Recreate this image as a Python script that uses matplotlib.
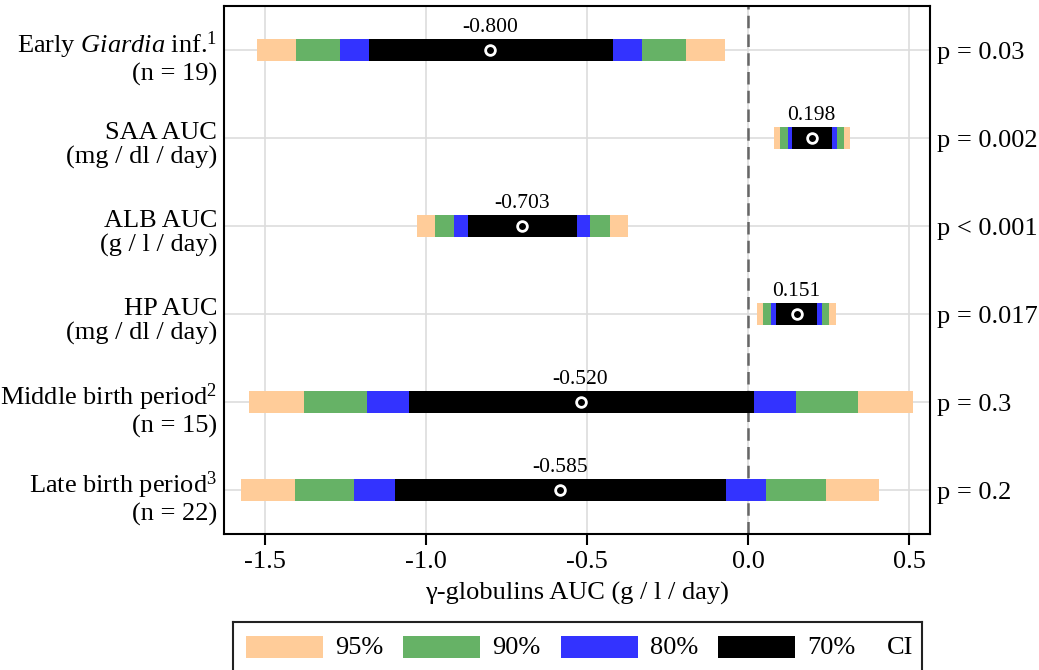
import matplotlib
matplotlib.use("Agg")
import matplotlib.pyplot as plt
from matplotlib.patches import Rectangle
import matplotlib.transforms as mtransforms
import numpy as np

plt.rcParams['font.family'] = ['Liberation Serif', 'DejaVu Serif']
plt.rcParams['mathtext.fontset'] = 'custom'
plt.rcParams['mathtext.rm'] = 'Liberation Serif'
plt.rcParams['mathtext.it'] = 'Liberation Serif:italic'

# ---------------- data ----------------
row_labels = [
    "Early $\\mathit{Giardia}$ inf.$^{1}$\n(n = 19)",
    "SAA AUC\n(mg / dl / day)",
    "ALB AUC\n(g / l / day)",
    "HP AUC\n(mg / dl / day)",
    "Middle birth period$^{2}$\n(n = 15)",
    "Late birth period$^{3}$\n(n = 22)",
]
p_values = ["p = 0.03", "p = 0.002", "p < 0.001", "p = 0.017", "p = 0.3", "p = 0.2"]
estimates = [-0.800, 0.198, -0.703, 0.151, -0.520, -0.585]
ci95_lo = [-1.525, 0.081, -1.028, 0.029, -1.549, -1.573]
ci95_hi = [-0.072, 0.318, -0.373, 0.273, 0.513, 0.407]
ci90_lo = [-1.404, 0.099, -0.973, 0.048, -1.380, -1.406]
ci90_hi = [-0.193, 0.299, -0.428, 0.252, 0.343, 0.243]
ci80_lo = [-1.267, 0.123, -0.912, 0.071, -1.183, -1.222]
ci80_hi = [-0.329, 0.275, -0.490, 0.230, 0.149, 0.057]
ci70_lo = [-1.176, 0.136, -0.870, 0.086, -1.054, -1.096]
ci70_hi = [-0.420, 0.262, -0.532, 0.215, 0.018, -0.068]
ci_levels = ["95%", "90%", "80%", "70%"]
ci_colors = ["#FFCC99", "#66B266", "#3333FF", "#000000"]
x_ticks = [-1.5, -1.0, -0.5, 0.0, 0.5]
x_label = "γ-globulins AUC (g / l / day)"

# ---------------- figure ----------------
W, H = 1039, 670
fig = plt.figure(figsize=(W / 100, H / 100), dpi=100)

def px_axes(l, t, r, b):
    return fig.add_axes([l / W, 1 - b / H, (r - l) / W, (b - t) / H])

ax = px_axes(224, 6, 930, 534)
ypos = np.arange(len(row_labels))
bar_h = 0.26

ax.set_xlim(-1.627, 0.565)
ax.set_ylim(5.5, -0.5)

# gridlines
for xt in x_ticks:
    ax.axvline(xt, color="#DDDDDD", lw=1.2, zorder=0)
for y in ypos:
    ax.axhline(y, color="#DDDDDD", lw=1.2, zorder=0)

ax.axvline(0.0, color="#666666", lw=1.8, ls=(0, (5, 2.5)), zorder=1)

los = [ci95_lo, ci90_lo, ci80_lo, ci70_lo]
his = [ci95_hi, ci90_hi, ci80_hi, ci70_hi]
for lo, hi, col in zip(los, his, ci_colors):
    lo = np.array(lo); hi = np.array(hi)
    ax.barh(ypos, hi - lo, left=lo, height=bar_h, color=col, edgecolor="none", zorder=2)

ax.plot(estimates, ypos, ls="none", marker="o", ms=7, mfc="black", mec="white", mew=2, zorder=4)

for x, y in zip(estimates, ypos):
    ax.text(x, y - bar_h / 2 - 0.02, f"{x:.3f}", ha="center", va="bottom", fontsize=15.5, zorder=5)

ax.set_xticks(x_ticks)
ax.set_xticklabels([f"{t:.1f}" for t in x_ticks])
ax.set_yticks(ypos)
ax.set_yticklabels(row_labels, linespacing=1.12)
ax.tick_params(axis="x", length=8, width=1.5, labelsize=19, pad=4.5)
ax.tick_params(axis="y", length=0, labelsize=19, pad=5)
ax.set_xlabel(x_label, fontsize=19, labelpad=6.5)
for s in ax.spines.values():
    s.set_linewidth(1.5)

shift = mtransforms.ScaledTranslation(0, -4 / 100, fig.dpi_scale_trans)
for lab in ax.get_yticklabels():
    lab.set_transform(lab.get_transform() + shift)

ax2 = ax.twinx()
ax2.set_ylim(ax.get_ylim())
ax2.set_yticks(ypos)
ax2.set_yticklabels(p_values)
ax2.tick_params(axis="y", length=0, labelsize=19, pad=5)
for s in ax2.spines.values():
    s.set_visible(False)

# ---------------- legend ----------------
lax = px_axes(233, 622, 922, 672)
lax.set_xlim(0, 689)
lax.set_ylim(0, 50)
lax.set_xticks([]); lax.set_yticks([])
for s in lax.spines.values():
    s.set_linewidth(1.5)
    s.set_color("#222222")
patch_x = [13, 170, 328, 485]
for i, (lab, col) in enumerate(zip(ci_levels, ci_colors)):
    lax.add_patch(Rectangle((patch_x[i], 14), 77, 22, facecolor=col, edgecolor="none"))
    lax.text(patch_x[i] + 89, 24, lab, ha="left", va="center", fontsize=19)
lax.text(654, 24, "CI", ha="left", va="center", fontsize=19)

fig.savefig("out.png", dpi=100)
